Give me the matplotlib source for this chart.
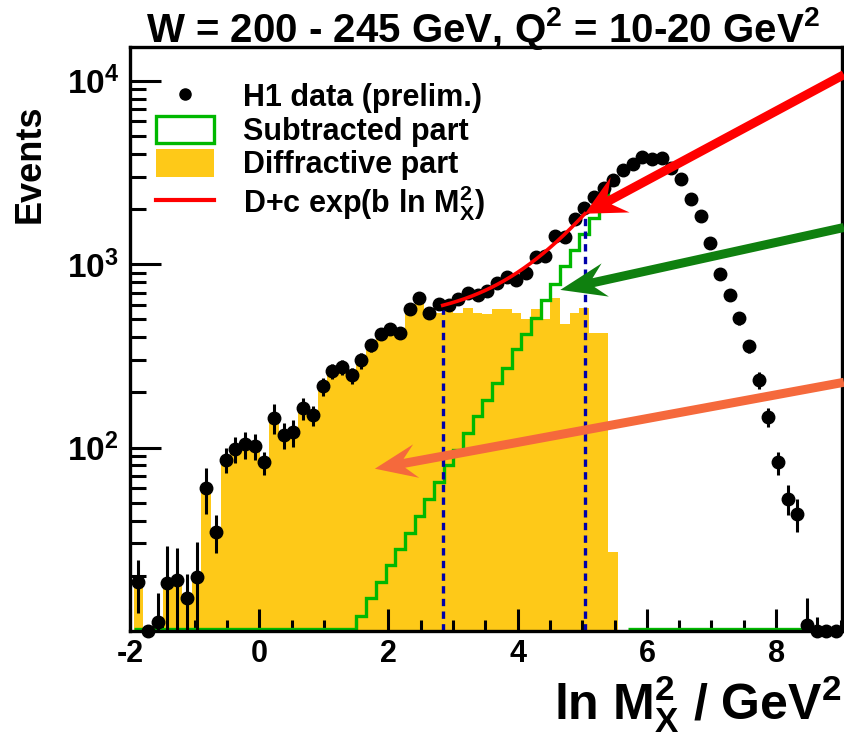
import numpy as np
import matplotlib
matplotlib.use("Agg")
import matplotlib.pyplot as plt
from matplotlib.lines import Line2D
from matplotlib.patches import Patch, Polygon
from matplotlib.transforms import IdentityTransform
from matplotlib.ticker import FixedLocator, MultipleLocator, NullFormatter

plt.rcParams['font.family'] = ['Liberation Sans', 'DejaVu Sans']
plt.rcParams['font.weight'] = 'bold'
plt.rcParams['axes.labelweight'] = 'bold'
plt.rcParams['mathtext.fontset'] = 'custom'
plt.rcParams['mathtext.rm'] = 'Liberation Sans:bold'
plt.rcParams['mathtext.it'] = 'Liberation Sans:bold'
plt.rcParams['mathtext.bf'] = 'Liberation Sans:bold'

# binning in ln M_X^2
bin_first = -1.945
bin_width = 0.15
n_bins = 73

h1_events = [18.5, 0, 11.2, 18.3, 19.0, 15.1, 19.8, 60.4, 34.7, 86,
             98, 104, 102, 83, 145, 117, 121, 164, 150, 216,
             261, 274, 248, 299, 362, 418, 442, 421, 568, 653,
             545, 610, 597, 643, 692, 681, 710, 785, 847, 823,
             891, 1090, 1113, 1432, 1403, 1770, 2033, 2310, 2618, 2880,
             3250, 3507, 3818, 3738, 3770, 3334, 2930, 2277, 1833, 1312,
             887, 681, 507, 357, 233, 147, 83, 52.7, 43.6, 10.8,
             0, 0, 0]
h1_errors = [6.0, 0, 5.0, 10.6, 9.3, 5.4, 10.7, 17, 8.0, 13,
             16, 17, 16, 12, 27, 19, 20, 22, 19, 24,
             25, 25, 25, 30, 30, 32, 33, 32, 38, 40,
             36, 38, 37, 39, 41, 40, 41, 44, 46, 45,
             47, 52, 53, 60, 59, 66, 71, 76, 81, 84,
             90, 94, 98, 97, 97, 91, 86, 76, 68, 58,
             47, 41, 40, 30, 24, 17, 12, 10, 9.0, 4.3,
             1.9, 0.8, 0.8]
subtracted = [0, 0, 0, 0, 0, 0, 0, 0, 0, 0,
              0, 0, 0, 0, 0, 0, 0, 0, 0, 0,
              0, 0, 0, 12.1, 15.1, 18.4, 22.8, 28.1, 34.3, 42.3,
              52.7, 65.2, 80, 97, 120, 148, 182, 225, 272, 343,
              414, 511, 637, 778, 981, 1197, 1463, 1791, 2181, 2748,
              0.5, 0, 0, 0, 0, 0, 0, 0, 0, 0,
              0, 0, 0, 0, 0, 0, 0, 0, 0, 0,
              0, 0, 0]
diffractive = [19.2, 0, 11.5, 18.5, 19.0, 15.0, 19.7, 62, 35, 88,
               98, 104, 102, 83, 145, 117, 121, 164, 150, 216,
               261, 274, 248, 290, 350, 405, 430, 405, 560, 640,
               530, 545, 557, 545, 578, 540, 534, 571, 571, 540,
               502, 571, 502, 658, 470, 544, 580, 423, 423, 27,
               0, 0, 0, 0, 0, 0, 0, 0, 0, 0,
               0, 0, 0, 0, 0, 0, 0, 0, 0, 0,
               0, 0, 0]

# fit D + c*exp(b*ln M_X^2) and its range
fit_D, fit_c, fit_b = 490.0, 3.83, 1.17
fit_lo, fit_hi = 2.84, 5.04

# arrow annotations (tail, tip) in data units
green_arrow = ((9.05, 1585), (4.66, 724))
orange_arrow = ((9.05, 227), (1.79, 76.7))
red_tail = (9.05, 10800)

title = r"W = 200 - 245 GeV, Q$^2$ = 10-20 GeV$^2$"

ymin, ymax = 10.0, 10**4.184
yellow = '#fec918'
hgreen = '#00b800'

edges = bin_first + bin_width * np.arange(n_bins + 1)
centers = 0.5 * (edges[:-1] + edges[1:])
data = np.array(h1_events, float)
err = np.array(h1_errors, float)
sub = np.array(subtracted, float)
dif = np.array(diffractive, float)

fig = plt.figure(figsize=(8.44, 7.42), dpi=100)
ax = fig.add_axes([130 / 844, 1 - 631 / 742, 712 / 844, 584 / 742])
ax.set_yscale('log')
ax.set_xlim(-2, 9.02)
ax.set_ylim(ymin, ymax)

# diffractive part (filled) and subtracted part (outline);
# empty bins sit on the floor, bins below the range are left out
base = 1.0
ax.stairs(np.where(dif > 0, dif, base), edges, baseline=base, fill=True,
          color=yellow, linewidth=0, zorder=1)
floor = ymin * 1.025
sub_show = np.where(sub == 0, floor, np.where(sub < ymin, np.nan, sub))
ax.stairs(sub_show, edges, baseline=None, color=hgreen, linewidth=2.4, zorder=2)

# fit curve and its range
xf = np.linspace(fit_lo, fit_hi, 200)
yf = fit_D + fit_c * np.exp(fit_b * xf)
ax.vlines([fit_lo, fit_hi], ymin, [yf[0], yf[-1]], colors='#0000aa',
          linestyles=(0, (2.2, 1.6)), lw=2.4, zorder=3)

# H1 data
nz = data > 0
ax.errorbar(centers[nz], data[nz], yerr=err[nz], fmt='o', color='k', ms=9,
            elinewidth=2.2, capsize=0, zorder=5)
zr = ~nz
ax.vlines(centers[zr], ymin, ymin + err[zr], colors='k', lw=2.2, zorder=25, clip_on=False)
ax.plot(centers[zr], np.full(zr.sum(), ymin), 'o', color='k', ms=9, zorder=25, clip_on=False)

ax.plot(xf, yf, color='#ff0000', lw=2.6, zorder=6)

# axes styling
for sp in ax.spines.values():
    sp.set_linewidth(2.4)
    sp.set_zorder(20)
ax.xaxis.set_major_locator(MultipleLocator(2))
ax.xaxis.set_minor_locator(MultipleLocator(0.5))
ax.yaxis.set_major_locator(FixedLocator([1e2, 1e3, 1e4]))
ax.yaxis.set_minor_locator(FixedLocator([m * 10**k for k in (1, 2, 3) for m in range(2, 10)]))
ax.yaxis.set_minor_formatter(NullFormatter())
ax.set_yticklabels([r'$\mathbf{10^{2}}$', r'$\mathbf{10^{3}}$', r'$\mathbf{10^{4}}$'])
ax.set_xticks([-2, 0, 2, 4, 6, 8])
ax.set_xticklabels(['-2', '0', '2', '4', '6', '8'])
ax.tick_params(axis='x', which='major', direction='in', length=16, width=2.2,
               labelsize=22, pad=6, top=False)
ax.tick_params(axis='x', which='minor', direction='in', length=8, width=2.2, top=False)
ax.tick_params(axis='y', which='major', direction='in', length=22, width=2.2,
               labelsize=24, pad=8, right=False)
ax.tick_params(axis='y', which='minor', direction='in', length=11.5, width=2.2, right=False)

ax.set_ylabel('Events', loc='top', fontsize=26)
ax.yaxis.set_label_coords(-0.115, 0.9007)
ax.set_xlabel(r'ln M$_X^2$ / GeV$^2$', loc='right', fontsize=36)
ax.xaxis.set_label_coords(0.999, -0.072)
fig.text(483 / 844, 1 - 42 / 742, title, ha='center', va='baseline', fontsize=29)

handles = [Line2D([], [], marker='o', ls='none', color='k', ms=8),
           Patch(facecolor='white', edgecolor=hgreen, linewidth=2.4),
           Patch(facecolor=yellow, edgecolor='none'),
           Line2D([], [], color='#ff0000', lw=3)]
labels = ['H1 data (prelim.)', 'Subtracted part', 'Diffractive part',
          r'D+c exp(b ln M$_X^2$)']
ax.legend(handles, labels, loc='upper left', bbox_to_anchor=(26 / 712, (631 - 82) / 584),
          frameon=False, fontsize=22, handlelength=1.9, handleheight=1.0,
          handletextpad=0.95, labelspacing=0.08, borderpad=0, borderaxespad=0,
          numpoints=1)


def draw_arrow(tail, tip, color, width, head_len, head_half, notch):
    p0 = ax.transData.transform(tail)
    p1 = ax.transData.transform(tip)
    u = (p1 - p0) / np.hypot(*(p1 - p0))
    n = np.array([-u[1], u[0]])
    w = width / 2
    back = p1 - u * head_len
    mid = p1 - u * notch
    verts = [p0 + n * w, mid + n * w, back + n * head_half, p1,
             back - n * head_half, mid - n * w, p0 - n * w]
    fig.add_artist(Polygon(verts, closed=True, transform=IdentityTransform(),
                           facecolor=color, edgecolor='none', zorder=30))


draw_arrow(red_tail, (fit_hi, yf[-1]), '#ff0000', 9, 40, 20, 28)
draw_arrow(*green_arrow, '#0f800f', 9, 46, 17, 34)
draw_arrow(*orange_arrow, '#f5693c', 9, 42, 17, 30)

fig.savefig('out.png', dpi=100)
